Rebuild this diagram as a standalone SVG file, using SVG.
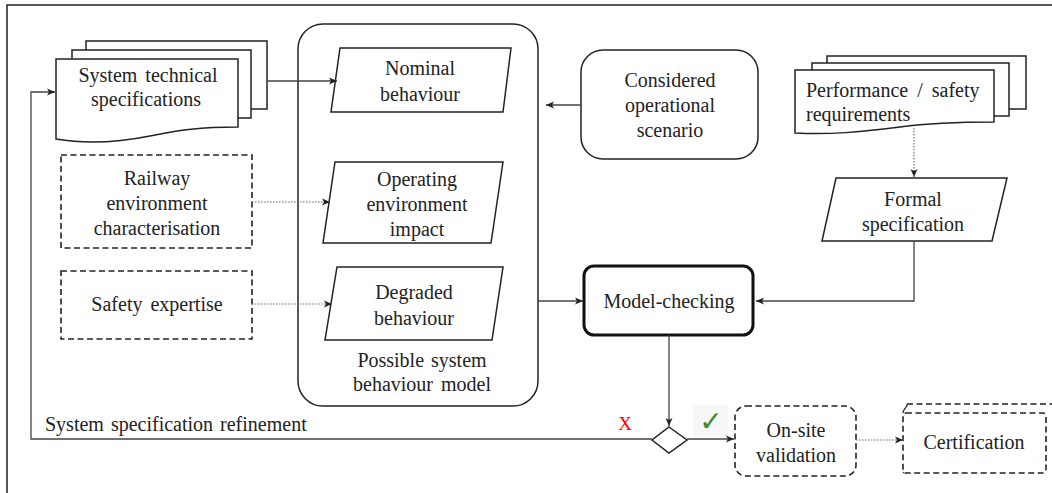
<svg xmlns="http://www.w3.org/2000/svg" width="1052" height="493" viewBox="0 0 1052 493" font-family="'Liberation Serif', 'Times New Roman', serif">
<style>
  text { font-family: 'Liberation Serif', 'Times New Roman', serif; font-size: 20px; fill: #222; text-anchor: middle; }
  .box { fill: #fff; stroke: #222; stroke-width: 1.5; }
  .dash { fill: #fff; stroke: #222; stroke-width: 1.6; stroke-dasharray: 6 3.5; }
  .conn { fill: none; stroke: #444; stroke-width: 1.3; }
  .dot { fill: none; stroke: #666; stroke-width: 1.1; stroke-dasharray: 1.5 1.5; }
</style>
<defs>
  <marker id="arr" markerWidth="10" markerHeight="10" refX="8" refY="5" orient="auto" markerUnits="userSpaceOnUse">
    <path d="M0,1.5 L8,5 L0,8.5 L2,5 Z" fill="#222"/>
  </marker>
</defs>
<rect width="1052" height="493" fill="#fff"/>
<rect x="7" y="5" width="1060" height="500" fill="none" stroke="#222" stroke-width="1.5"/>

<g id="possible-system-behaviour-model">
  <rect class="box" x="298" y="24" width="240" height="382" rx="25"/>
  <text x="422" y="367" style="word-spacing:2px">Possible system</text>
  <text x="422" y="391" style="word-spacing:3px">behaviour model</text>
</g>

<g id="system-technical-specifications">
  <rect class="box" x="86" y="41" width="181" height="68"/>
  <rect class="box" x="72" y="50" width="179" height="68"/>
  <path class="box" d="M56,59 H238 V127 C200,127 180,130 150,136 C115,143 85,144 56,139 Z"/>
  <text x="148" y="82" style="word-spacing:3px">System technical</text>
  <text x="146" y="106">specifications</text>
</g>

<g id="railway-environment">
  <rect class="dash" x="61" y="155" width="191" height="93"/>
  <text x="157" y="185">Railway</text>
  <text x="157" y="210">environment</text>
  <text x="157" y="235">characterisation</text>
</g>

<g id="safety-expertise">
  <rect class="dash" x="61" y="271" width="191" height="68"/>
  <text x="157" y="311" style="word-spacing:3px">Safety expertise</text>
</g>

<g id="nominal-behaviour">
  <path class="box" d="M340,48 H511 L503,112 H331 Z"/>
  <text x="420" y="75">Nominal</text>
  <text x="420" y="101">behaviour</text>
</g>

<g id="operating-environment-impact">
  <path class="box" d="M335,162 H503 L491,243 H323 Z"/>
  <text x="417" y="186">Operating</text>
  <text x="417" y="211">environment</text>
  <text x="417" y="236">impact</text>
</g>

<g id="degraded-behaviour">
  <path class="box" d="M337,267 H503 L492,340 H325 Z"/>
  <text x="414" y="299">Degraded</text>
  <text x="414" y="325">behaviour</text>
</g>

<g id="considered-operational-scenario">
  <rect class="box" x="581" y="50" width="177" height="109" rx="22"/>
  <text x="670" y="87">Considered</text>
  <text x="670" y="112">operational</text>
  <text x="670" y="137">scenario</text>
</g>

<g id="performance-safety-requirements">
  <rect class="box" x="827" y="56" width="199" height="53"/>
  <rect class="box" x="812" y="63" width="197" height="53"/>
  <path class="box" d="M795,70 H994 V122 C960,122 930,123 900,127 C860,132 830,135 795,133 Z"/>
  <text x="806" y="97" style="text-anchor:start; word-spacing:4px">Performance / safety</text>
  <text x="806" y="121" style="text-anchor:start">requirements</text>
</g>

<g id="formal-specification">
  <path class="box" d="M836,178 H1007 L992,241 H822 Z"/>
  <text x="913" y="206">Formal</text>
  <text x="913" y="231">specification</text>
</g>

<g id="model-checking">
  <rect x="584" y="266" width="169" height="69" rx="10" fill="#fff" stroke="#111" stroke-width="3"/>
  <text x="669" y="308">Model-checking</text>
</g>

<g id="decision">
  <path class="box" d="M669,427 L687,440 L669,453 L652,440 Z"/>
</g>

<g id="on-site-validation">
  <rect class="dash" x="735" y="406" width="121" height="70" rx="11"/>
  <text x="796" y="437">On-site</text>
  <text x="796" y="462">validation</text>
</g>

<g id="certification">
  <path class="dash" d="M907,404 H1052"/>
  <path fill="none" stroke="#222" stroke-width="1.4" d="M903,413 C903,408 908,408 907,404"/>
  <path fill="none" stroke="#222" stroke-width="1.4" d="M903,466 C906,466 908,469 903,473"/>
  <rect class="dash" x="903" y="413" width="143" height="60" rx="3"/>
  <text x="974" y="449">Certification</text>
</g>

<g id="label-refinement">
  <text x="45" y="431" style="text-anchor:start; word-spacing:2px">System specification refinement</text>
  <text x="625" y="430" style="fill:#f00; font-size:19px">X</text>
  <rect x="693" y="405" width="35" height="32" fill="#f7f7f7"/>
  <text x="711" y="431" style="fill:#3c8c2c; font-family:'DejaVu Sans', sans-serif; font-size:28px; font-weight:bold">✓</text>
</g>

<g id="connectors">
  <path class="conn" d="M267,81 H337" marker-end="url(#arr)"/>
  <path class="dot" d="M252,202 H330" marker-end="url(#arr)"/>
  <path class="dot" d="M252,304 H332" marker-end="url(#arr)"/>
  <path class="conn" d="M581,105 H546" marker-end="url(#arr)"/>
  <path class="conn" d="M538,301 H583" marker-end="url(#arr)"/>
  <path class="dot" d="M914,128 V177" marker-end="url(#arr)"/>
  <path class="conn" d="M914,241 V301 H756" marker-end="url(#arr)"/>
  <path class="conn" d="M669,335 V426" marker-end="url(#arr)"/>
  <path class="conn" d="M687,439 H734" marker-end="url(#arr)"/>
  <path class="dot" d="M856,440 H903" marker-end="url(#arr)"/>
  <path class="conn" d="M652,439 H31 V92 H55" marker-end="url(#arr)"/>
</g>
</svg>
